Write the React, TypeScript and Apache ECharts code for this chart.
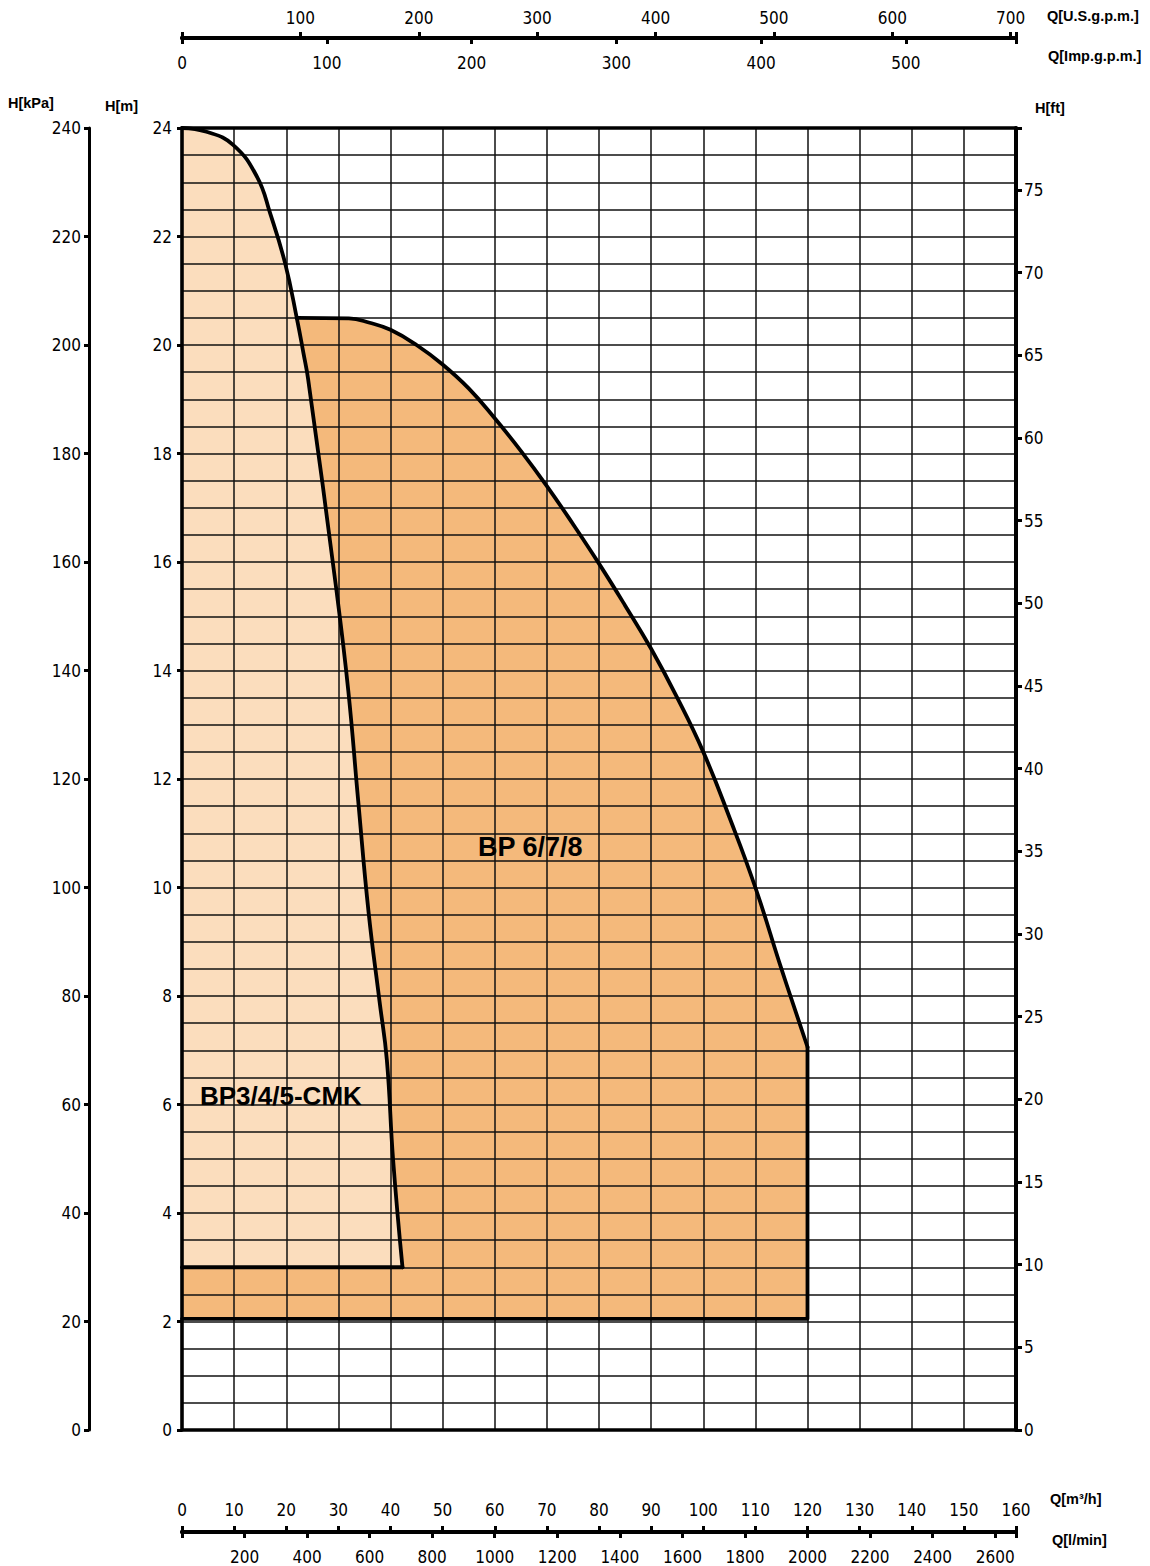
import React, { useEffect, useRef } from "react";
import * as echarts from "echarts";

// ---- scales (m³/h is the base flow unit, m the base head unit) ----
const qMax = 160; // m³/h
const hMax = 24; // m
const usGpmMax = 704.5; // 160 m³/h in U.S. g.p.m.
const impGpmMax = 576; // 160 m³/h in Imp. g.p.m. (as printed)
const lminMax = 2666.67; // 160 m³/h in l/min
const kpaMax = 240;
const ftMax = 78.74; // 24 m in ft

// ---- BP3/4/5-CMK envelope ----
const bp3Q = [0, 4.7, 9.8, 14.4, 16.9, 19.8, 22.1, 23.3, 24.2, 29.6, 31.9, 33.8, 35.8, 37.9, 39.3, 40.5, 42.3];
const bp3H = [24, 23.93, 23.69, 23.1, 22.43, 21.5, 20.46, 19.85, 19.37, 15.5, 13.63, 11.6, 9.54, 7.9, 6.82, 4.98, 3.0];
const bp3BaseH = 3.0;

// ---- BP 6/7/8 envelope ----
const bp678Q = [22, 32, 36, 40, 45, 50, 55, 60, 65, 70, 75, 80, 85, 90, 95, 100, 105, 110, 115, 120];
const bp678H = [20.5, 20.49, 20.41, 20.28, 20.0, 19.64, 19.2, 18.65, 18.05, 17.4, 16.7, 15.97, 15.2, 14.4, 13.5, 12.5, 11.3, 10.0, 8.5, 7.06];
const bp678BaseH = 2.05;

const numFont = "'Liberation Sans Narrow', 'Arial Narrow', 'DejaVu Sans Condensed', sans-serif";
const boldFont = "'Liberation Sans', Arial, sans-serif";
const gridLine = { color: "#111", width: 1.5 };
const lightFill = "#FBDDBD";
const darkFill = "#F4B97B";

const pairs = (qs: number[], hs: number[]) => qs.map((q, i) => [q, hs[i]]);

export default function App() {
  const ref = useRef<HTMLDivElement>(null);

  useEffect(() => {
    if (!ref.current) return;
    const chart = echarts.init(ref.current, undefined, { renderer: "svg" });

    const bp3Pts = pairs(bp3Q, bp3H);
    const bp678Pts = pairs(bp678Q, bp678H);
    const lastBp3 = bp3Pts[bp3Pts.length - 1];
    const lastBp678 = bp678Pts[bp678Pts.length - 1];

    const darkPoly = [
      [0, bp678BaseH],
      [lastBp678[0], bp678BaseH],
      ...bp678Pts.slice().reverse(),
      [0, bp678H[0]],
    ];
    const lightPoly = [...bp3Pts, [0, bp3BaseH]];

    const polySeries = (pts: number[][], color: string) => ({
      type: "custom",
      xAxisIndex: 0,
      yAxisIndex: 0,
      z: 1,
      silent: true,
      data: [[0, 0]],
      renderItem: (_p: any, api: any) => ({
        type: "polygon",
        shape: { points: pts.map((p) => api.coord(p)) },
        style: { fill: color, stroke: "none" },
      }),
    });

    const lineSeries = (data: number[][], smooth: number | boolean) => ({
      type: "line",
      xAxisIndex: 0,
      yAxisIndex: 0,
      z: 10,
      silent: true,
      showSymbol: false,
      symbol: "none",
      smooth,
      clip: false,
      data,
      lineStyle: { color: "#000", width: 3.8, cap: "round", join: "round" },
    });

    const numLabel = { fontFamily: numFont, fontSize: 17, color: "#000" };
    const tickStyle = { color: "#000", width: 3 };

    const option: any = {
      animation: false,
      backgroundColor: "#fff",
      grid: { left: 182, top: 128, width: 834, height: 1302, containLabel: false },
      xAxis: [
        {
          type: "value", min: 0, max: qMax, interval: 10, position: "bottom", z: 5,
          axisLine: { show: true, onZero: false, lineStyle: { color: "#000", width: 3.6 } },
          axisTick: { show: false }, axisLabel: { show: false },
          splitLine: { show: true, lineStyle: gridLine },
        },
        {
          type: "value", min: 0, max: qMax, interval: 10, position: "top", z: 5,
          axisLine: { show: true, onZero: false, lineStyle: { color: "#000", width: 3.6 } },
          axisTick: { show: false }, axisLabel: { show: false }, splitLine: { show: false },
        },
        {
          type: "value", min: 0, max: qMax, interval: 10, position: "bottom", offset: 102, z: 5,
          axisLine: { show: true, onZero: false, lineStyle: { color: "#000", width: 4 } },
          axisTick: { show: true, inside: true, length: 6, lineStyle: tickStyle },
          axisLabel: { ...numLabel, inside: true, margin: 14 },
          splitLine: { show: false },
        },
        {
          type: "value", min: 0, max: lminMax, interval: 200, position: "bottom", offset: 102, z: 5,
          axisLine: { show: true, onZero: false, lineStyle: { color: "#000", width: 4 } },
          axisTick: { show: true, inside: false, length: 6, lineStyle: tickStyle },
          axisLabel: {
            ...numLabel, margin: 16,
            formatter: (v: number) => (v > 0 && Math.abs(v % 200) < 1e-6 ? String(v) : ""),
          },
          splitLine: { show: false },
        },
        {
          type: "value", min: 0, max: usGpmMax, interval: 100, position: "top", offset: 90, z: 5,
          axisLine: { show: true, onZero: false, lineStyle: { color: "#000", width: 4 } },
          axisTick: { show: true, inside: false, length: 6, lineStyle: tickStyle },
          axisLabel: {
            ...numLabel, margin: 12,
            formatter: (v: number) => (v > 0 && Math.abs(v % 100) < 1e-6 ? String(v) : ""),
          },
          splitLine: { show: false },
        },
        {
          type: "value", min: 0, max: impGpmMax, interval: 100, position: "top", offset: 90, z: 5,
          axisLine: { show: true, onZero: false, lineStyle: { color: "#000", width: 4 } },
          axisTick: { show: true, inside: true, length: 6, lineStyle: tickStyle },
          axisLabel: {
            ...numLabel, inside: true, margin: 16,
            formatter: (v: number) => (Math.abs(v % 100) < 1e-6 ? String(v) : ""),
          },
          splitLine: { show: false },
        },
      ],
      yAxis: [
        {
          type: "value", min: 0, max: hMax, interval: 2, position: "left", z: 5,
          axisLine: { show: true, onZero: false, lineStyle: { color: "#000", width: 3.6 } },
          axisTick: { show: true, length: 5, lineStyle: tickStyle },
          axisLabel: { ...numLabel, margin: 10 },
          splitLine: { show: true, lineStyle: gridLine },
          minorTick: { show: false, splitNumber: 4 },
          minorSplitLine: { show: true, lineStyle: gridLine },
        },
        {
          type: "value", min: 0, max: kpaMax, interval: 20, position: "left", offset: 93, z: 5,
          axisLine: { show: true, onZero: false, lineStyle: { color: "#000", width: 3 } },
          axisTick: { show: true, length: 5, lineStyle: tickStyle },
          axisLabel: { ...numLabel, margin: 8 },
          splitLine: { show: false },
        },
        {
          type: "value", min: 0, max: ftMax, interval: 5, position: "right", z: 5,
          axisLine: { show: true, onZero: false, lineStyle: { color: "#000", width: 4 } },
          axisTick: { show: true, length: 6, lineStyle: tickStyle },
          axisLabel: {
            ...numLabel, margin: 8,
            formatter: (v: number) => (Math.abs(v % 5) < 1e-6 ? String(v) : ""),
          },
          splitLine: { show: false },
        },
      ],
      series: [
        polySeries(darkPoly, darkFill),
        polySeries(lightPoly, lightFill),
        lineSeries(bp3Pts, 0.45),
        lineSeries([lastBp3, [0, bp3BaseH]], false),
        lineSeries(bp678Pts, 0.45),
        lineSeries([lastBp678, [lastBp678[0], bp678BaseH], [0, bp678BaseH]], false),
      ],
      graphic: [
        { type: "text", left: 1047, top: 8, style: { text: "Q[U.S.g.p.m.]", font: `bold 14.5px ${boldFont}`, fill: "#000" } },
        { type: "text", left: 1048, top: 48, style: { text: "Q[Imp.g.p.m.]", font: `bold 14.5px ${boldFont}`, fill: "#000" } },
        { type: "text", left: 8, top: 95, style: { text: "H[kPa]", font: `bold 14.5px ${boldFont}`, fill: "#000" } },
        { type: "text", left: 105, top: 98, style: { text: "H[m]", font: `bold 14.5px ${boldFont}`, fill: "#000" } },
        { type: "text", left: 1035, top: 100, style: { text: "H[ft]", font: `bold 14.5px ${boldFont}`, fill: "#000" } },
        { type: "text", left: 1050, top: 1491, style: { text: "Q[m³/h]", font: `bold 14.5px ${boldFont}`, fill: "#000" } },
        { type: "text", left: 1052, top: 1532, style: { text: "Q[l/min]", font: `bold 14.5px ${boldFont}`, fill: "#000" } },
        { type: "text", left: 200, top: 1083, z: 20, style: { text: "BP3/4/5-CMK", font: `bold 26px ${boldFont}`, fill: "#000" } },
        { type: "text", left: 478, top: 833, z: 20, style: { text: "BP 6/7/8", font: `bold 27px ${boldFont}`, fill: "#000" } },
      ],
    };

    chart.setOption(option);
    return () => chart.dispose();
  }, []);

  return (
    <div
      ref={ref}
      style={{ position: "absolute", left: 0, top: 0, width: 1150, height: 1566, background: "#fff" }}
    />
  );
}
